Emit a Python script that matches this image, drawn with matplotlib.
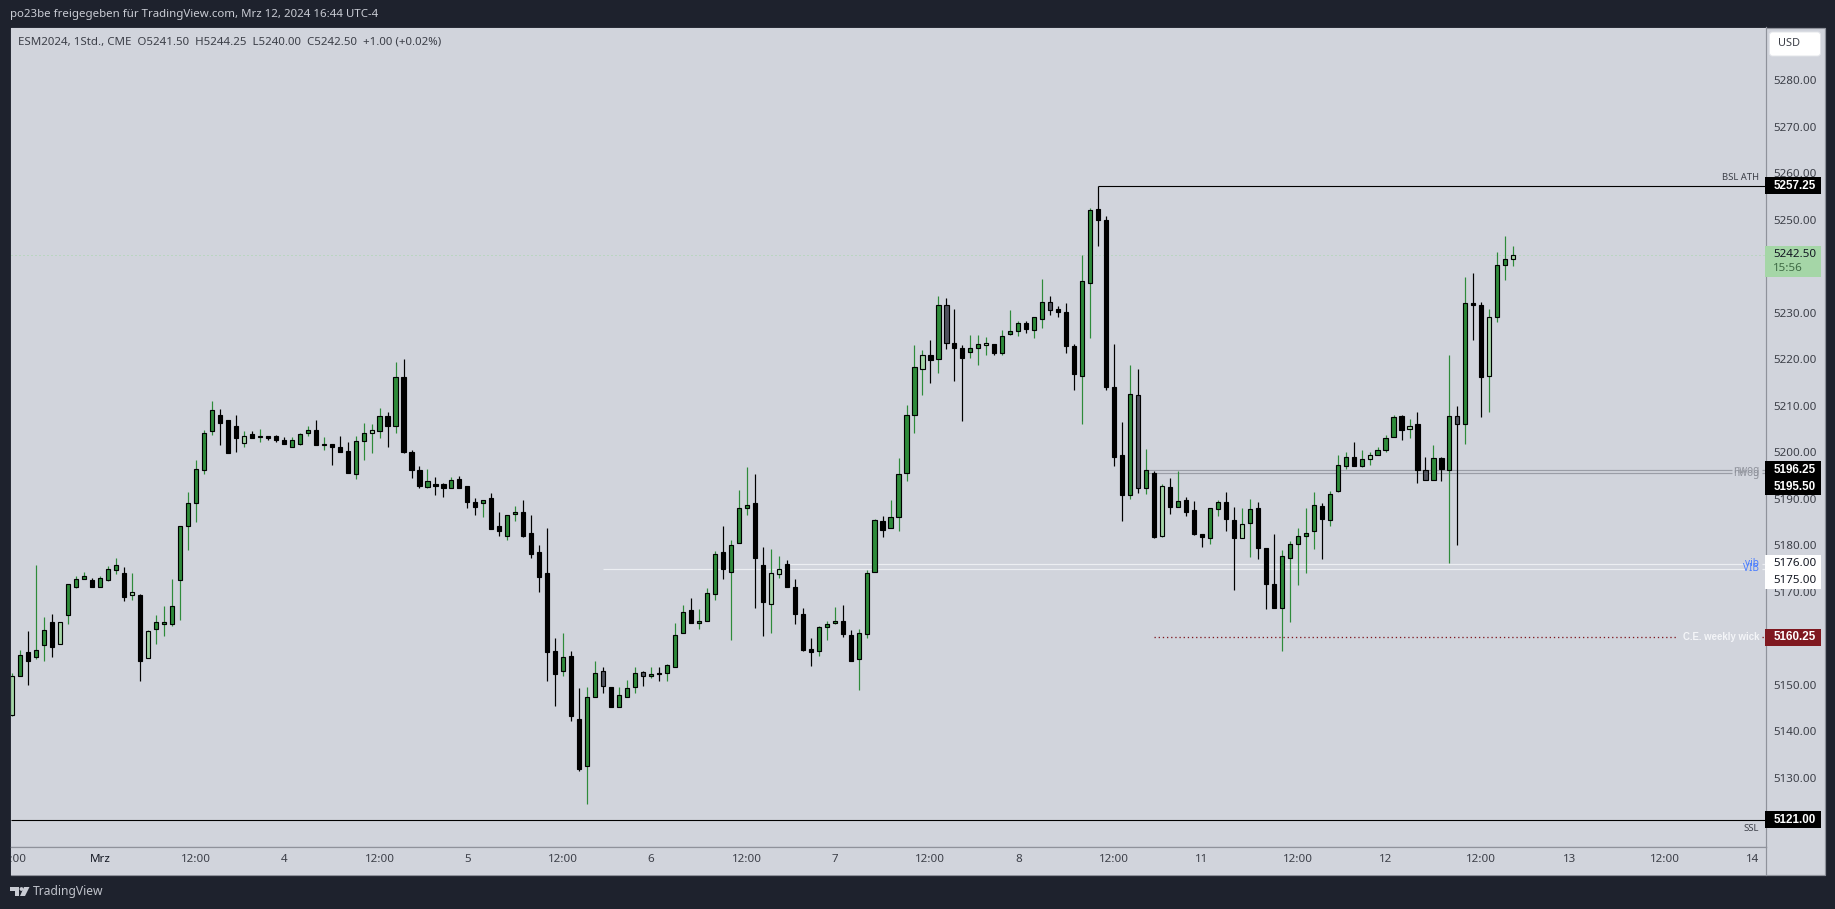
import matplotlib
matplotlib.use("Agg")
import matplotlib.pyplot as plt
from matplotlib.patches import Rectangle, Polygon, Circle, FancyBboxPatch
from matplotlib.transforms import IdentityTransform

highs = [5152.5,5157.5,5161.5,5175.75,5164.5,5165.25,5163.5,5171.75,5173.5,5174.25,
5173,5173.5,5175.5,5177.25,5175.25,5174,5169.5,5161.75,5165,5167,
5172.75,5184.25,5191.5,5198.25,5204.75,5211,5209.25,5207,5208,5204.5,
5204.5,5205,5203.5,5203.75,5203.25,5203.25,5204.25,5205.75,5207,5203.25,
5201.75,5203.5,5202.25,5203.5,5206.25,5206,5209.5,5208.75,5219.5,5220,
5200.5,5197,5196.5,5194.75,5193.5,5194.75,5195,5192.75,5190.25,5189.75,
5191.25,5187.25,5186.5,5188.5,5189.75,5186.5,5180,5183.75,5160,5161.25,
5157.25,5149.25,5149.5,5155.25,5153.75,5149.5,5149.5,5151,5153.75,5153,
5153.75,5153.75,5154.5,5163.25,5167.25,5168.75,5166.25,5170.75,5178.75,5184.25,
5181.25,5192,5196.75,5195.25,5179.75,5179.25,5177.75,5176.75,5172.75,5166.5,
5160,5162.75,5163.75,5166.75,5167.25,5161.75,5162,5174.75,5185.75,5186.25,
5189.75,5198.75,5210.25,5223,5222,5224.25,5233.5,5233.25,5230.75,5223,
5225.25,5225.25,5224.75,5223.25,5226.25,5230.5,5228.25,5228.25,5229,5237.25,
5233.5,5231.5,5232,5223.25,5242.5,5252.5,5257.25,5250.75,5223.25,5206.5,
5218.75,5218,5200.75,5196,5193.25,5194.5,5196,5190.5,5189.5,5182.5,
5188,5189.75,5191.5,5188.25,5188,5190,5189.25,5179.5,5182.5,5179,
5181,5183.75,5188,5191.5,5189,5191.75,5199.5,5200,5202.25,5200.5,
5200,5201.25,5203.75,5208,5208,5207.25,5208.75,5199,5201.5,5199,
5221,5210,5237.75,5238.5,5232.25,5230.75,5243,5246.5,5244.25]

body_tops = [5152,5156.5,5157,5157.5,5161.75,5163.5,5163.5,5171.75,5172.75,5173.5,
5172.5,5173,5175,5175.75,5174,5170,5169.25,5161.5,5163.5,5163.5,
5167,5184.25,5189,5196.5,5204.25,5209,5208,5207,5205.75,5203.5,
5204,5203.5,5203.5,5203.5,5202.75,5202.75,5204,5204.75,5204.75,5201.75,
5201.75,5201.25,5200.25,5202.5,5204.25,5204.75,5207.75,5207.75,5216.25,5216.25,
5200,5196.25,5193.75,5193.25,5193.25,5194,5194.25,5192.75,5189.25,5189.75,
5190.25,5184.25,5186.5,5187.25,5187.25,5182.75,5178.5,5174,5157.25,5156,
5156.25,5142.75,5147.5,5152.5,5153,5149.5,5147.75,5149.25,5152.5,5152.75,
5152.25,5152.5,5154.25,5160.75,5165.75,5166,5163.75,5169.75,5178.25,5178.5,
5180,5188,5188.75,5189,5175.75,5174,5175,5176,5171,5165.25,
5157.75,5162.5,5163,5163.75,5163.75,5160.75,5161.25,5174,5185.5,5185.25,
5186,5195.25,5208,5218.25,5221,5221,5231.75,5231.75,5223.5,5222.5,
5222.5,5223.25,5223.5,5223.25,5225,5226,5227.75,5227.75,5229,5232.25,
5232.25,5230.75,5230.25,5222.75,5236.75,5252,5252.25,5250,5214,5199.5,
5212.5,5212.25,5196.25,5195.5,5192.75,5192.5,5189.5,5189.75,5187.5,5182.5,
5188,5189.25,5189.25,5185.5,5184.5,5187.75,5188,5179.5,5171.75,5177.75,
5180.25,5182,5182.75,5188.75,5188.5,5191,5197.25,5199,5199,5198.5,
5199.5,5200.5,5203,5207.5,5207.75,5205.75,5206,5196.25,5198.75,5198.75,
5207.75,5207.75,5232,5232,5231.75,5229,5240.25,5241.5,5242.5]

body_bottoms = [5143.5,5152,5155.25,5156,5158.5,5158.25,5158.75,5165,5171,5172.75,
5171,5171,5172.5,5174.75,5169,5169.25,5155.25,5155.75,5162,5163,
5163,5172.5,5184.25,5189,5196.25,5204.5,5206.25,5199.75,5203,5202,
5203,5203.25,5203,5202.75,5201.75,5201.25,5201.75,5204.25,5201.5,5201.5,
5201.25,5200,5195.5,5195.25,5202.5,5204.25,5204.5,5205.75,5205.75,5200,
5196.25,5192.75,5192.5,5192.75,5192.25,5192.25,5192.25,5189.25,5188.25,5189,
5183.5,5183,5182,5186.75,5182,5178.25,5173.25,5157,5152.25,5153,
5143.25,5132,5132.5,5147.5,5149.75,5145.25,5145.25,5147.5,5149.5,5152,
5152,5152.25,5152.5,5153.75,5161.25,5163.25,5163.25,5163.75,5169.5,5175,
5174.25,5180.5,5188,5177.25,5167.75,5167.5,5173.75,5171,5165.25,5157.5,
5157,5157.25,5162.5,5163.25,5161,5155.25,5155.5,5161,5174.25,5183.25,
5183.75,5186,5195.5,5208,5218,5219.75,5220,5223.5,5222.5,5220.25,
5221.5,5222.5,5223,5221.25,5221.25,5225.5,5226,5226.5,5226.25,5228.75,
5230.5,5230.25,5222.75,5216.75,5216.5,5236.5,5250,5214,5199,5190.75,
5190.75,5192.25,5192.25,5181.75,5182,5188.25,5188.25,5187.25,5182.5,5181.75,
5181.5,5187.75,5185.75,5181.5,5181.5,5184.75,5179.5,5171.75,5166.5,5166.5,
5177.25,5180.25,5182,5183,5185.75,5185.5,5191.75,5197,5197,5197,
5198.5,5199.5,5200.5,5203.25,5204.75,5205,5196.25,5194,5194,5196.5,
5196.25,5206,5206,5231.75,5216.25,5216.5,5229,5240.25,5241.5]

lows = [5143.25,5152,5150,5155.5,5155.25,5156,5158.75,5163,5170.75,5172.75,
5171,5171,5172.25,5173.75,5168,5168.25,5150.75,5155.75,5158.75,5160.5,
5162.75,5164,5179,5185,5195.25,5203.75,5201.5,5199.75,5200,5201.25,
5203,5202.25,5202.75,5202.25,5201.75,5201.25,5201.5,5203.5,5201.5,5200.5,
5197.25,5200,5195.5,5194.25,5198.25,5199.75,5203,5201.25,5204.25,5199.75,
5194.5,5192.25,5192.25,5190.75,5190.5,5192.25,5192.25,5188,5186.5,5186,
5183.5,5182,5181.25,5185.25,5181.75,5177.25,5170,5150.75,5145.5,5152,
5142.25,5131.5,5124.5,5147.5,5148.25,5145.25,5145.25,5147.5,5148.25,5149.75,
5151.5,5150.75,5150.75,5153.75,5161.25,5163.25,5162,5163.75,5168.25,5172.75,
5159.75,5180.5,5186.5,5166.5,5160.5,5161.25,5173,5171,5163,5157.25,
5154,5156.25,5159.75,5163,5160.25,5155.25,5149,5160,5174.25,5181.75,
5183.75,5183,5193.75,5204.25,5212.25,5215,5217,5222.25,5215.25,5206.75,
5220.25,5218.75,5221,5221,5221,5225.25,5225,5225.75,5224.5,5226.75,
5229.5,5229,5221.25,5213.5,5206,5224.5,5244.25,5213.5,5197,5185.25,
5190,5191.25,5191,5181.5,5181.75,5186.75,5188.25,5186.25,5182.25,5179.75,
5180.25,5186.25,5183,5170.5,5181.5,5177.5,5177,5166.25,5166.5,5157.25,
5163.5,5171.5,5174,5179.25,5177,5184.25,5191.5,5196.5,5197,5196.75,
5197.25,5199.5,5200,5203.25,5202.75,5203,5193.5,5194,5194,5193.75,
5176.25,5180,5201.75,5224.25,5207.5,5208.75,5228,5237,5240]

kinds = ("LGKGGKLGGG" "KGGGKLKLGG" "GGGGGGKKKL" "KGKKKGGGKG" "KKKGGLGKGK"
         "KKGKKGKKKG" "KKGGKKKKKG" "KKGGDKGGGD" "GKGGGKGGGK" "GGGKKLLKKK"
         "KGGGKKGGGK" "GGGGLKGDKK" "GGLKGGGKGG" "DKKKGGKKKK" "GDGKLKGKKK"
         "GGKKLGKKKG" "GGGGKGGGKG" "LGGGKLKDGK" "GDGKKLGGL")

price_ticks = [5130,5140,5150,5160,5170,5180,5190,5200,5210,5220,5230,5250,5260,5270,5280]
time_positions = [0,11,23,34,46,57,69,80,92,103,115,126,138,149,161,172,184,195,207,218]
time_labels = ["12:00","Mrz","12:00","4","12:00","5","12:00","6","12:00","7","12:00","8",
               "12:00","11","12:00","12","12:00","13","12:00","14"]

bsl_price = 5257.25
ssl_price = 5121.00
nwog_prices = [5196.25, 5195.50]
vib_prices = [5176.00, 5175.00]
ce_price = 5160.25
last_price = 5242.50

W, H = 1835, 909
BG = "#1e222d"; PANE = "#d1d4dc"; EDGE = "#8f929b"
GREEN = "#2e8b3a"; LIGHT = "#a5d6a7"; GREY = "#50535e"
plt.rcParams["font.family"] = ["Noto Sans", "DejaVu Sans"]
BOLD = ["Liberation Sans", "DejaVu Sans"]
def pt(px): return px * 72 / 100

fig = plt.figure(figsize=(W/100, H/100), dpi=100, facecolor=BG)
def fx(x): return x / W
def fy(y): return 1 - y / H

L, R, T, B, B2, R2 = 10.5, 1765.5, 27.5, 846.5, 874.5, 1824.5
fig.add_artist(Rectangle((fx(L), fy(B2)), fx(R2-L), (B2-T)/H, transform=fig.transFigure,
                         fc=PANE, ec=EDGE, lw=pt(1.2), zorder=-5))
ax = fig.add_axes([fx(L), fy(B), fx(R-L), (B-T)/H], facecolor=PANE)
axt = fig.add_axes([fx(L), fy(B2), fx(R-L), (B2-B)/H], facecolor=PANE, sharex=ax)

STEP = 7.984
X0 = 12.3
ax.set_xlim((L-X0)/STEP, (R-X0)/STEP)
SC = 4.652
Y_REF = 186.0
ax.set_ylim(bsl_price-(B-Y_REF)/SC, bsl_price+(Y_REF-T)/SC)
xs = list(range(len(highs)))
assert len(highs)==len(lows)==len(body_tops)==len(body_bottoms)==len(kinds)

wick_col = [GREEN if k in "GL" else "black" for k in kinds]
fill = {"G": GREEN, "L": LIGHT, "K": "black", "D": GREY}
ax.vlines(xs, lows, highs, colors=wick_col, lw=pt(1.2), zorder=3)
ax.bar(xs, [t-b for t, b in zip(body_tops, body_bottoms)], bottom=body_bottoms, width=0.52,
       color=[fill[k] for k in kinds], edgecolor="black", linewidth=pt(1.15), zorder=4)

xend = ax.get_xlim()[1]
ax.hlines(bsl_price, 136, xend, color="black", lw=pt(1.1), zorder=2)
ax.hlines(ssl_price, ax.get_xlim()[0], xend, color="black", lw=pt(1.1), zorder=2)
gap_n = (1732-X0)/STEP; gap_n2 = (1761.5-X0)/STEP
for p in nwog_prices:
    ax.hlines(p, 142, gap_n, color="#9a9da6", lw=pt(1.2), zorder=2)
    ax.hlines(p, gap_n2, xend, color="#9a9da6", lw=pt(1.2), zorder=2)
gap_v = (1745-X0)/STEP
for p, s in zip(vib_prices, (97, 74)):
    ax.hlines(p, s, gap_v, color="#eceef2", lw=pt(1.2), zorder=2)
    ax.hlines(p, gap_n2, xend, color="#eceef2", lw=pt(1.2), zorder=2)
ax.hlines(ce_price, 143, (1677-X0)/STEP, color="#7f1820", lw=pt(1.3), ls=(0, (1, 2.2)), zorder=2)
ax.hlines(ce_price, gap_n2, xend, color="#7f1820", lw=pt(1.3), ls=(0, (1, 2.2)), zorder=2)
ax.hlines(last_price, ax.get_xlim()[0], xend, color=LIGHT, lw=pt(1), ls=(0, (1, 3)), zorder=1)

for s in ("top", "left"):
    ax.spines[s].set_visible(False)
    axt.spines[s].set_visible(False)
axt.spines["top"].set_visible(True)
for a in (ax, axt):
    for s in ("right", "bottom", "top"):
        a.spines[s].set_color(EDGE); a.spines[s].set_linewidth(pt(1.2))
axt.spines["bottom"].set_visible(False)

ax.yaxis.tick_right()
ax.set_yticks(price_ticks)
ax.set_yticklabels([f"{v:.2f}" for v in price_ticks], fontsize=pt(11.6), color="#3c3f48")
ax.tick_params(axis="y", length=0, pad=pt(7.5))
ax.tick_params(axis="x", length=0, labelbottom=False)

axt.set_yticks([])
axt.set_xticks(time_positions)
axt.set_xticklabels(time_labels, fontsize=pt(11.6), color="#3c3f48")
axt.tick_params(axis="x", length=0, pad=-pt(20))
for lb in axt.get_xticklabels():
    lb.set_clip_on(True)
    lb.set_clip_box(axt.bbox)
    if lb.get_text() == "Mrz":
        lb.set_color("#131722")

def price_px(v):
    return H - ax.transData.transform((0, v))[1]
def ltext(txt, y, color, **kw):
    fig.text(fx(1759), fy(y), txt, ha="right", va="center", color=color, **kw)
ltext("BSL ATH", price_px(bsl_price)-8.5, "#3c3f48", fontsize=pt(9.5))
ltext("SSL", price_px(ssl_price)+8.5, "#3c3f48", fontsize=pt(9.5))
ltext("nwog", price_px(nwog_prices[0])+0.5, "#8f929b", fontsize=pt(10))
ltext("nwog", price_px(nwog_prices[1])+0.5, "#8f929b", fontsize=pt(10))
ltext("vib", price_px(vib_prices[0]), "#4a7dff", fontsize=pt(10))
ltext("VIB", price_px(vib_prices[1]), "#4a7dff", fontsize=pt(10))
ltext("C.E. weekly wick", price_px(ce_price), "#f4f5f8", fontsize=pt(9.6), fontweight="bold", family=BOLD)

def tag(txt, yc, fc, tc, bold=True):
    fig.add_artist(Rectangle((fx(1765), fy(yc+8.5)), fx(56), 17/H, transform=fig.transFigure,
                             fc=fc, ec="none", zorder=8))
    kw = dict(fontweight="bold", family=BOLD, fontsize=pt(11.6)) if bold else dict(fontsize=pt(11.6))
    fig.text(fx(1773.3), fy(yc), txt, ha="left", va="center", color=tc, zorder=9, **kw)
tag(f"{bsl_price:.2f}", price_px(bsl_price), "black", "white")
tag(f"{nwog_prices[0]:.2f}", price_px(nwog_prices[0]), "black", "white")
tag(f"{nwog_prices[1]:.2f}", price_px(nwog_prices[0])+17, "black", "white")
tag(f"{vib_prices[0]:.2f}", price_px(vib_prices[0]), "white", "#131722", False)
tag(f"{vib_prices[1]:.2f}", price_px(vib_prices[0])+17, "white", "#131722", False)
tag(f"{ce_price:.2f}", price_px(ce_price), "#7f1820", "white")
tag(f"{ssl_price:.2f}", price_px(ssl_price), "black", "white")
fig.add_artist(Rectangle((fx(1765), fy(276.7)), fx(56), 30.7/H, transform=fig.transFigure,
                         fc=LIGHT, ec="none", zorder=8))
fig.text(fx(1773.3), fy(254.5), f"{last_price:.2f}", ha="left", va="center", color="#131722",
         fontsize=pt(11.6), zorder=9)
fig.text(fx(1773.3), fy(268.5), "15:56", ha="left", va="center", color="#3f6b45",
         fontsize=pt(11.6), zorder=9)

fig.add_artist(FancyBboxPatch((1771.5, H-54), 47, 20, boxstyle="round,pad=2,rounding_size=3",
                              transform=IdentityTransform(), fc="white", ec="#e3e5ea", lw=0.7, zorder=8))
fig.text(fx(1778), fy(44), "USD", ha="left", va="center", color="#3c3f48", fontsize=pt(11), zorder=9)

fig.text(fx(10), fy(15), "po23be freigegeben für TradingView.com, Mrz 12, 2024 16:44 UTC-4",
         ha="left", va="center", color="#c9ccd4", fontsize=pt(11.45))
ax_label = "ESM2024, 1Std., CME  O5241.50  H5244.25  L5240.00  C5242.50  +1.00 (+0.02%)"
fig.text(fx(18.5), fy(42), ax_label, ha="left", va="center", color="#3c3f48", fontsize=pt(11.5))

c = "#c9ccd4"
fig.add_artist(Polygon([(fx(10), fy(887)), (fx(19), fy(887)), (fx(19), fy(896)), (fx(14.5), fy(896)),
                        (fx(14.5), fy(891)), (fx(10), fy(891))], closed=True, transform=fig.transFigure, fc=c, ec="none"))
fig.add_artist(Polygon([(fx(24), fy(887)), (fx(29.5), fy(887)), (fx(25), fy(896)), (fx(20), fy(896))],
                       closed=True, transform=fig.transFigure, fc=c, ec="none"))
fig.add_artist(Circle((21.5, H-889), 1.9, transform=IdentityTransform(), fc=c, ec="none"))
fig.text(fx(33), fy(892), "TradingView", ha="left", va="center", color="#c0c3cb", fontsize=pt(12.1))

fig.savefig("out.png", dpi=100, facecolor=BG)
